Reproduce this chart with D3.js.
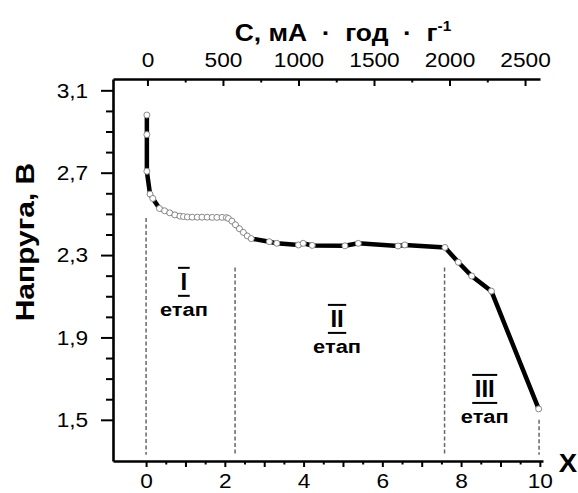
<!DOCTYPE html>
<html>
<head>
<meta charset="utf-8">
<script src="https://cdn.jsdelivr.net/npm/d3@7"></script>
<style>
  body { margin: 0; background: #fff; }
  svg { display: block; font-family: "Liberation Sans", Arial, sans-serif; }
</style>
</head>
<body>
<svg id="chart" width="578" height="493"></svg>
<script>
// discharge curve: x (Li content) vs voltage, V
const xVals = [0.02, 0.02, 0.02, 0.10, 0.17, 0.34, 0.47, 0.60, 0.73, 0.86,
  0.95, 1.05, 1.17, 1.30, 1.42, 1.55, 1.68, 1.80, 1.93, 2.04,
  2.09, 2.18, 2.27, 2.37, 2.47, 2.57, 2.67, 3.13, 3.32, 3.87,
  3.99, 4.22, 5.05, 5.39, 6.40, 6.57, 7.59, 7.93, 8.27, 8.77, 9.97];
const voltage = [2.98, 2.885, 2.707, 2.596, 2.575, 2.526, 2.515, 2.505, 2.495, 2.489,
  2.487, 2.485, 2.484, 2.484, 2.484, 2.484, 2.483, 2.483, 2.483, 2.482,
  2.478, 2.465, 2.447, 2.428, 2.41, 2.393, 2.38, 2.365, 2.357, 2.349,
  2.357, 2.347, 2.345, 2.357, 2.344, 2.349, 2.337, 2.265, 2.198, 2.125, 1.553];

const capTicks = [0, 500, 1000, 1500, 2000, 2500];
const capMinor = [250, 750, 1250, 1750, 2250];
const xMajor = [0, 1, 2, 3, 4, 5, 6, 7, 8, 9, 10];
const xMinor = [0.5, 1.5, 2.5, 3.5, 4.5, 5.5, 6.5, 7.5, 8.5, 9.5];
const vTicks = [1.5, 1.9, 2.3, 2.7, 3.1];
const vMinor = [1.6, 1.7, 1.8, 2.0, 2.1, 2.2, 2.4, 2.5, 2.6, 2.8, 2.9, 3.0];

// stage borders (dashed) and stage labels
const stageX = [0, 2.26, 7.58, 9.98];
const stageTop = [2.48, 2.24, 2.24, 1.5];
const stageBottom = 1.33;
const stageNames = ["I", "II", "III"];
const stageLabelX = [0.96, 4.85, 8.6];
const stageLabelV = [2.17, 1.99, 1.65];

const svg = d3.select("#chart");

const x = d3.scaleLinear().domain([-0.84, 10.08]).range([113, 543]);
const cap = d3.scaleLinear().domain([-228, 2599]).range([113, 540]);
const y = d3.scaleLinear().domain([1.3, 3.155]).range([461, 79]);

const comma = d => d3.format(".1f")(d).replace(".", ",");

function styleAxis(g) {
  g.select(".domain").attr("stroke", "#000").attr("stroke-width", 2.6);
  g.selectAll(".tick line").attr("stroke", "#000").attr("stroke-width", 2);
  g.selectAll(".tick text")
    .attr("fill", "#000")
    .attr("font-size", 21)
    .attr("font-family", "Liberation Sans, Arial, sans-serif");
}

// minor ticks first
svg.append("g")
  .attr("transform", "translate(0,461)")
  .call(d3.axisBottom(x).tickValues(xMinor).tickSize(3.5).tickFormat(""))
  .call(g => g.select(".domain").remove())
  .call(styleAxis);
svg.append("g")
  .attr("transform", "translate(0,79)")
  .call(d3.axisTop(cap).tickValues(capMinor).tickSize(-3.5).tickFormat(""))
  .call(g => g.select(".domain").remove())
  .call(styleAxis);
svg.append("g")
  .attr("transform", "translate(113,0)")
  .call(d3.axisLeft(y).tickValues(vMinor).tickSize(7).tickFormat(""))
  .call(g => g.select(".domain").remove())
  .call(styleAxis);

// major axes
svg.append("g")
  .attr("transform", "translate(0,461)")
  .call(d3.axisBottom(x).tickValues(xMajor).tickSizeInner(6).tickSizeOuter(0)
    .tickPadding(6).tickFormat(d => d % 2 === 0 ? d : ""))
  .call(styleAxis)
  .call(g => g.selectAll(".tick text").attr("transform", "scale(1.08,1)"));

svg.append("g")
  .attr("transform", "translate(0,79)")
  .call(d3.axisTop(cap).tickValues(capTicks).tickSizeInner(-7).tickSizeOuter(0)
    .tickPadding(12).tickFormat(d3.format("d")))
  .call(styleAxis)
  .call(g => g.selectAll(".tick text").attr("transform", "scale(1.08,1)"));

svg.append("g")
  .attr("transform", "translate(113,0)")
  .call(d3.axisLeft(y).tickValues(vTicks).tickSizeInner(12).tickSizeOuter(0)
    .tickPadding(11).tickFormat(comma))
  .call(styleAxis)
  .call(g => g.selectAll(".tick text").attr("transform", "scale(1.08,1)"));

// dashed stage borders
svg.append("g")
  .selectAll("line")
  .data(stageX)
  .join("line")
    .attr("x1", d => x(d))
    .attr("x2", d => x(d))
    .attr("y1", (d, i) => y(stageTop[i]))
    .attr("y2", y(stageBottom))
    .attr("stroke", "#666")
    .attr("stroke-width", 1.5)
    .attr("stroke-dasharray", "4,2.5");

// curve
const pts = xVals.map((d, i) => [d, voltage[i]]);

svg.append("path")
  .datum(pts)
  .attr("fill", "none")
  .attr("stroke", "#000")
  .attr("stroke-width", 4.5)
  .attr("d", d3.line().x(d => x(d[0])).y(d => y(d[1])));

svg.append("g")
  .selectAll("circle")
  .data(pts)
  .join("circle")
    .attr("cx", d => x(d[0]))
    .attr("cy", d => y(d[1]))
    .attr("r", 3)
    .attr("fill", "#fff")
    .attr("stroke", "#8a8a8a")
    .attr("stroke-width", 1);

// stage labels: roman numeral with bars + "етап"
const stages = svg.append("g")
  .selectAll("g")
  .data(stageNames)
  .join("g")
    .attr("transform", (d, i) => `translate(${x(stageLabelX[i])},${y(stageLabelV[i])})`);

stages.append("text")
  .attr("text-anchor", "middle")
  .attr("y", 8.5)
  .attr("font-size", 24)
  .attr("font-weight", "bold")
  .text(d => d);

stages.each(function(d) {
  const g = d3.select(this);
  const w = g.select("text").node().getBBox().width + 5;
  [-14, 14].forEach(dy => {
    g.append("line")
      .attr("x1", -w / 2).attr("x2", w / 2)
      .attr("y1", dy).attr("y2", dy)
      .attr("stroke", "#000")
      .attr("stroke-width", 2);
  });
});

stages.append("text")
  .attr("text-anchor", "middle")
  .attr("y", 34)
  .attr("font-size", 19)
  .attr("font-weight", "bold")
  .attr("transform", "scale(1.15,1)")
  .text("етап");

// axis titles
svg.append("text")
  .attr("transform", "translate(343,41) scale(1.1,1)")
  .attr("text-anchor", "middle")
  .attr("font-size", 24)
  .attr("font-weight", "bold")
  .style("white-space", "pre")
  .text("С, мА  ·  год  ·  г")
  .append("tspan")
    .attr("font-size", 14)
    .attr("dy", -10)
    .text("-1");

svg.append("text")
  .attr("transform", "translate(34,242) rotate(-90) scale(1.2,1)")
  .attr("text-anchor", "middle")
  .attr("font-size", 25)
  .attr("font-weight", "bold")
  .text("Напруга, В");

svg.append("text")
  .attr("transform", "translate(568,472) scale(1.1,1)")
  .attr("text-anchor", "middle")
  .attr("font-size", 25)
  .attr("font-weight", "bold")
  .text("X");
</script>
</body>
</html>
